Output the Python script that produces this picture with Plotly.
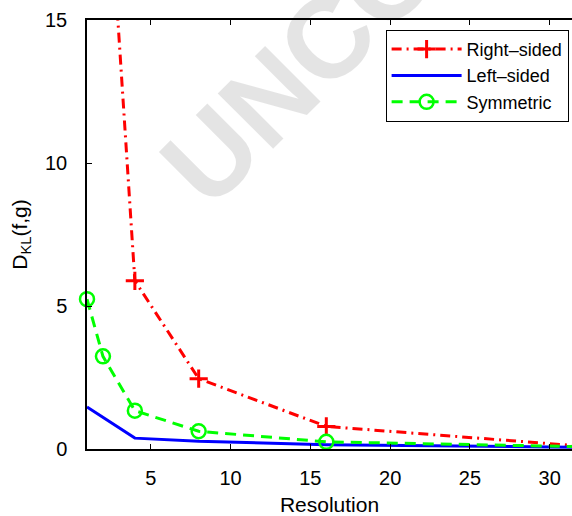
import plotly.graph_objects as go

# Data
res_right = [2, 4, 8, 16, 32]
kl_right = [23.0, 5.88, 2.46, 0.79, 0.10]

res_left = [1, 2, 4, 8, 16, 32]
kl_left = [1.47, 1.10, 0.38, 0.27, 0.15, 0.06]

res_sym = [1, 2, 4, 8, 16, 32]
kl_sym = [5.24, 3.24, 1.34, 0.62, 0.25, 0.08]

x_ticks = [5, 10, 15, 20, 25, 30]
y_ticks = [0, 5, 10, 15]

FONT = "Liberation Sans, Arial, Helvetica, sans-serif"

fig = go.Figure()
fig.add_trace(go.Scatter(
    x=res_right, y=kl_right, name="Right\u2013sided", mode="lines+markers",
    line=dict(color="#ff0000", width=3, dash="10px,5px,2px,5px"),
    marker=dict(symbol="cross-thin-open", size=13, line=dict(color="#ff0000", width=3)),
))
fig.add_trace(go.Scatter(
    x=res_left, y=kl_left, name="Left\u2013sided", mode="lines",
    line=dict(color="#0000ff", width=3),
))
fig.add_trace(go.Scatter(
    x=res_sym, y=kl_sym, name="Symmetric", mode="lines+markers",
    line=dict(color="#00ff00", width=3, dash="11px,7px"),
    marker=dict(symbol="circle-open", size=14, line=dict(color="#00ff00", width=2.5)),
    cliponaxis=False,
))

fig.add_annotation(
    text="<b>UNCORRECTED PROOF</b>", xref="paper", yref="paper",
    x=1.160, y=1.7065, xanchor="center", yanchor="middle",
    textangle=-45, showarrow=False,
    font=dict(family=FONT, size=114, color="rgba(0,0,0,0.105)"),
)

fig.update_layout(
    width=572, height=516,
    margin=dict(l=87, r=0, t=20, b=67),
    paper_bgcolor="white", plot_bgcolor="white",
    font=dict(family=FONT, size=20, color="black"),
    showlegend=True,
    legend=dict(
        x=0.993, y=0.977, xanchor="right", yanchor="top",
        bgcolor="white", bordercolor="black", borderwidth=1,
        font=dict(family=FONT, size=18, color="black"),
        itemwidth=70, tracegroupgap=0,
    ),
    xaxis=dict(
        range=[1, 31.4], tickvals=x_ticks, ticks="inside", ticklen=5,
        tickcolor="black", showline=True, linecolor="black", linewidth=1.5,
        mirror="ticks", showgrid=False, zeroline=False,
        ticklabelstandoff=10,
        title=dict(text="Resolution", standoff=12, font=dict(size=21)),
        tickfont=dict(size=20),
    ),
    yaxis=dict(
        range=[0, 15], tickvals=y_ticks, ticks="inside", ticklen=5,
        tickcolor="black", showline=True, linecolor="black", linewidth=1.5,
        showgrid=False, zeroline=False,
        ticklabelstandoff=14,
        title=dict(text="D<sub>KL</sub>(f,g)", standoff=12, font=dict(size=21)),
        tickfont=dict(size=20),
    ),
)

fig.write_html("out.html")
